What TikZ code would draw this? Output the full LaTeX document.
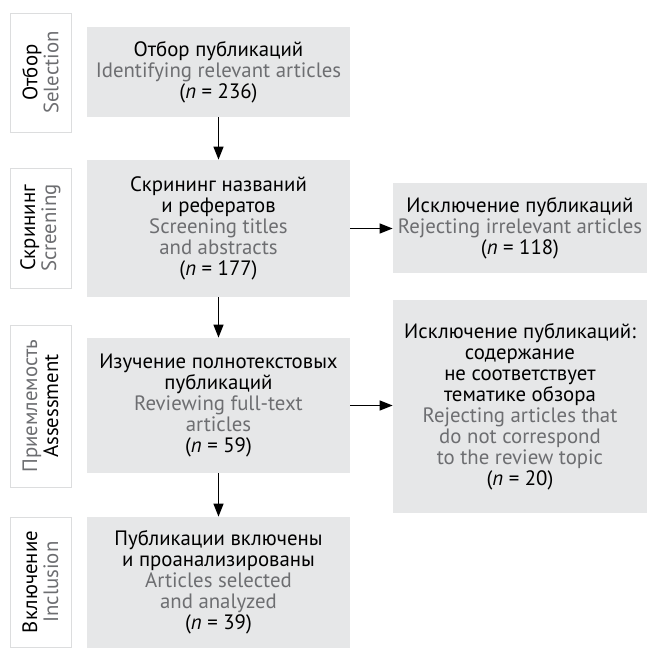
\documentclass[tikz,border=0pt]{standalone}
\usepackage{fontspec}
\setmainfont{PT Sans}
\usetikzlibrary{arrows.meta, positioning}
\definecolor{boxgray}{HTML}{E6E7E8}
\definecolor{engray}{HTML}{6D6E71}
\definecolor{framegray}{HTML}{DCDDDE}
\newcommand{\en}[1]{\textcolor{engray}{#1}}
\newcommand{\nval}[1]{(\textit{n}~=~#1)}

\begin{document}
\begin{tikzpicture}[x=0.5pt, y=-0.5pt, font=\fontsize{10.4}{10.5}\selectfont,
    stage/.style={draw=framegray, line width=0.5pt, fill=white, rotate=90, minimum height=30.5pt, align=center, inner sep=0pt},
    mainbox/.style={fill=boxgray, minimum width=131.5pt, align=center, inner sep=0pt},
    sidebox/.style={fill=boxgray, minimum width=127pt, align=center, inner sep=0pt},
    link/.style={-{Triangle[length=6.5pt,width=5pt]}, line width=0.6pt}]
    \useasboundingbox (0,0) rectangle (648,648);
    % stage labels on the left
    \node[stage, minimum width=59.5pt] (selection) at (40.5,72.5) {Отбор\\\en{Selection}};
    \node[stage, minimum width=60pt] (screening) at (40.5,228) {Скрининг\\\en{Screening}};
    \node[stage, minimum width=81pt] (assessment) at (40.5,406) {\en{Приемлемость}\\Assessment};
    \node[stage, minimum width=65pt] (inclusion) at (40.5,582) {Включение\\\en{Inclusion}};
    % main column
    \node[mainbox, minimum height=45pt] (identify) at (218.5,72) {Отбор публикаций\\\en{Identifying relevant articles}\\\nval{236}};
    \node[mainbox, minimum height=68.5pt] (screen) at (218.5,228.5) {Скрининг названий\\и рефератов\\\en{Screening titles}\\\en{and abstracts}\\\nval{177}};
    \node[mainbox, minimum height=67.5pt] (review) at (218.5,405.5) {Изучение полнотекстовых\\публикаций\\\en{Reviewing full-text}\\\en{articles}\\\nval{59}};
    \node[mainbox, minimum height=65.5pt] (selected) at (218.5,582.5) {Публикации включены\\и проанализированы\\\en{Articles selected}\\\en{and analyzed}\\\nval{39}};
    % exclusions
    \node[sidebox, minimum height=45pt] (reject) at (520,228) {Исключение публикаций\\\en{Rejecting irrelevant articles}\\\nval{118}};
    \node[sidebox, minimum height=106.5pt] (offtopic) at (520,406.5) {Исключение публикаций:\\содержание\\не соответствует\\тематике обзора\\\en{Rejecting articles that}\\\en{do not correspond}\\\en{to the review topic}\\\nval{20}};
    \draw[link] (identify) -- (screen);
    \draw[link] (screen) -- (review);
    \draw[link] (review) -- (selected);
    \draw[link] (screen.east) -- (reject.west |- screen.east);
    \draw[link] (review.east) -- (offtopic.west |- review.east);
\end{tikzpicture}
\end{document}
